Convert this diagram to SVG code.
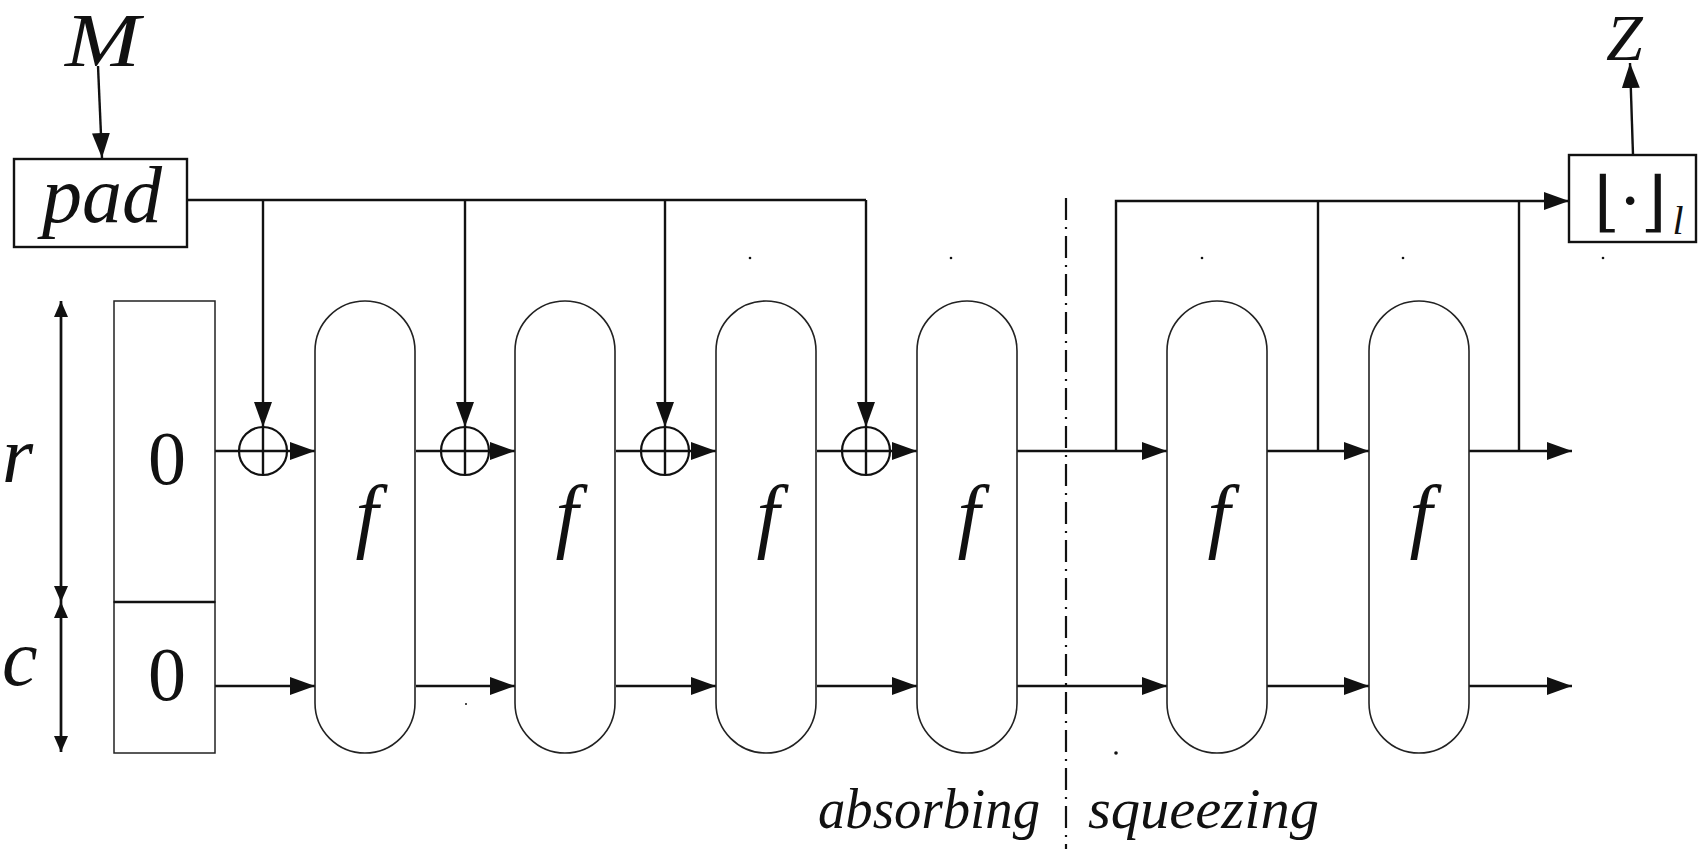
<svg xmlns="http://www.w3.org/2000/svg" width="1698" height="849" viewBox="0 0 1698 849">
<style>
.conn{fill:none;stroke:#111;stroke-width:2.4}
.cap{fill:#fff;stroke:#222;stroke-width:1.6}
.box{fill:#fff;stroke:#111;stroke-width:2.4}
.zbox{fill:#fff;stroke:#222;stroke-width:1.5}
.xor{fill:#fff;stroke:#111;stroke-width:2.2}
.it{font-family:"Liberation Serif","Times New Roman",serif;font-style:italic;fill:#111}
.rm{font-family:"Liberation Serif","Times New Roman",serif;fill:#111}
.dot{fill:#111}
</style>
<defs>
<marker id="ah" viewBox="0 0 25 18" markerWidth="25" markerHeight="18" refX="25" refY="9" orient="auto" markerUnits="userSpaceOnUse"><path d="M0,0 L25,9 L0,18 Z" fill="#111"/></marker>
<marker id="as" viewBox="0 0 16 14" markerWidth="16" markerHeight="14" refX="16" refY="7" orient="auto-start-reverse" markerUnits="userSpaceOnUse"><path d="M0,0 L16,7 L0,14 Z" fill="#111"/></marker>
</defs>

<g id="connectors">
<path class="conn" d="M98,66 L102,158" marker-end="url(#ah)"/>
<path class="conn" d="M187,200 H866"/>
<path class="conn" d="M263,200 V427" marker-end="url(#ah)"/>
<path class="conn" d="M465,200 V427" marker-end="url(#ah)"/>
<path class="conn" d="M665,200 V427" marker-end="url(#ah)"/>
<path class="conn" d="M866,200 V427" marker-end="url(#ah)"/>
<path class="conn" d="M215,451 H315" marker-end="url(#ah)"/>
<path class="conn" d="M416,451 H515" marker-end="url(#ah)"/>
<path class="conn" d="M616,451 H716" marker-end="url(#ah)"/>
<path class="conn" d="M817,451 H917" marker-end="url(#ah)"/>
<path class="conn" d="M1017,451 H1167" marker-end="url(#ah)"/>
<path class="conn" d="M1267,451 H1369" marker-end="url(#ah)"/>
<path class="conn" d="M1469,451 H1572" marker-end="url(#ah)"/>
<path class="conn" d="M215,686 H315" marker-end="url(#ah)"/>
<path class="conn" d="M416,686 H515" marker-end="url(#ah)"/>
<path class="conn" d="M616,686 H716" marker-end="url(#ah)"/>
<path class="conn" d="M817,686 H917" marker-end="url(#ah)"/>
<path class="conn" d="M1017,686 H1167" marker-end="url(#ah)"/>
<path class="conn" d="M1267,686 H1369" marker-end="url(#ah)"/>
<path class="conn" d="M1469,686 H1572" marker-end="url(#ah)"/>
<path class="conn" d="M1116,451 V201 H1569" marker-end="url(#ah)"/>
<path class="conn" d="M1318,451 V201"/>
<path class="conn" d="M1519,451 V201"/>
<path class="conn" d="M1633,155 L1630,63" marker-end="url(#ah)"/>
<path class="conn" d="M61,602 V301" marker-end="url(#as)"/>
<path class="conn" d="M61,301 V602" marker-end="url(#as)"/>
<path class="conn" d="M61,602 V752" marker-end="url(#as)"/>
<path class="conn" d="M61,752 V602" marker-end="url(#as)"/>
<path fill="none" stroke="#111" stroke-width="2.2" stroke-dasharray="22 7 2 7" d="M1066,198 V849"/>
</g>

<g id="M"><text class="it" x="65" y="66" font-size="76" textLength="75" lengthAdjust="spacingAndGlyphs">M</text></g>
<g id="pad"><rect class="box" x="14" y="159" width="173" height="88"/><text class="it" x="42" y="222" font-size="80" textLength="120" lengthAdjust="spacingAndGlyphs">pad</text></g>

<g id="dim-r"><text class="it" x="2" y="482" font-size="80">r</text></g>
<g id="dim-c"><text class="it" x="2" y="685" font-size="80">c</text></g>

<g id="state-r"><rect class="zbox" x="114" y="301" width="101" height="301"/><text class="rm" x="167" y="484" font-size="76" text-anchor="middle">0</text></g>
<g id="state-c"><rect class="zbox" x="114" y="602" width="101" height="151"/><line x1="114" y1="602" x2="215" y2="602" stroke="#111" stroke-width="2.6"/><text class="rm" x="167" y="700" font-size="76" text-anchor="middle">0</text></g>

<g id="xor1"><circle class="xor" cx="263" cy="451" r="24"/><path class="conn" d="M263,427 V475 M239,451 H287"/></g>
<g id="xor2"><circle class="xor" cx="465" cy="451" r="24"/><path class="conn" d="M465,427 V475 M441,451 H489"/></g>
<g id="xor3"><circle class="xor" cx="665" cy="451" r="24"/><path class="conn" d="M665,427 V475 M641,451 H689"/></g>
<g id="xor4"><circle class="xor" cx="866" cy="451" r="24"/><path class="conn" d="M866,427 V475 M842,451 H890"/></g>

<g id="f1"><path class="cap" d="M315,351 A50,50 0 0 1 415,351 V703 A50,50 0 0 1 315,703 Z"/><text class="it" x="367" y="542" font-size="82" text-anchor="middle">f</text></g>
<g id="f2"><path class="cap" d="M515,351 A50,50 0 0 1 615,351 V703 A50,50 0 0 1 515,703 Z"/><text class="it" x="567" y="542" font-size="82" text-anchor="middle">f</text></g>
<g id="f3"><path class="cap" d="M716,351 A50,50 0 0 1 816,351 V703 A50,50 0 0 1 716,703 Z"/><text class="it" x="768" y="542" font-size="82" text-anchor="middle">f</text></g>
<g id="f4"><path class="cap" d="M917,351 A50,50 0 0 1 1017,351 V703 A50,50 0 0 1 917,703 Z"/><text class="it" x="969" y="542" font-size="82" text-anchor="middle">f</text></g>
<g id="f5"><path class="cap" d="M1167,351 A50,50 0 0 1 1267,351 V703 A50,50 0 0 1 1167,703 Z"/><text class="it" x="1219" y="542" font-size="82" text-anchor="middle">f</text></g>
<g id="f6"><path class="cap" d="M1369,351 A50,50 0 0 1 1469,351 V703 A50,50 0 0 1 1369,703 Z"/><text class="it" x="1421" y="542" font-size="82" text-anchor="middle">f</text></g>

<g id="trunc"><rect class="box" x="1569" y="155" width="127" height="87"/><text x="1594" y="224" font-size="66" font-family="DejaVu Serif,serif" fill="#111">⌊·⌋<tspan class="it" font-size="40" dx="6" dy="10">l</tspan></text></g>
<g id="Z"><text class="it" x="1606" y="60" font-size="66">Z</text></g>

<g id="labels">
<text class="it" x="818" y="828" font-size="58" textLength="222" lengthAdjust="spacingAndGlyphs">absorbing</text>
<text class="it" x="1088" y="828" font-size="58" textLength="231" lengthAdjust="spacingAndGlyphs">squeezing</text>
</g>

<g id="specks">
<circle class="dot" cx="750" cy="258" r="1.3"/>
<circle class="dot" cx="951" cy="258" r="1.3"/>
<circle class="dot" cx="1202" cy="258" r="1.3"/>
<circle class="dot" cx="1403" cy="258" r="1.3"/>
<circle class="dot" cx="1603" cy="258" r="1.3"/>
<circle class="dot" cx="1116" cy="753" r="1.8"/>
<circle class="dot" cx="466" cy="704" r="1"/>
</g>
</svg>
